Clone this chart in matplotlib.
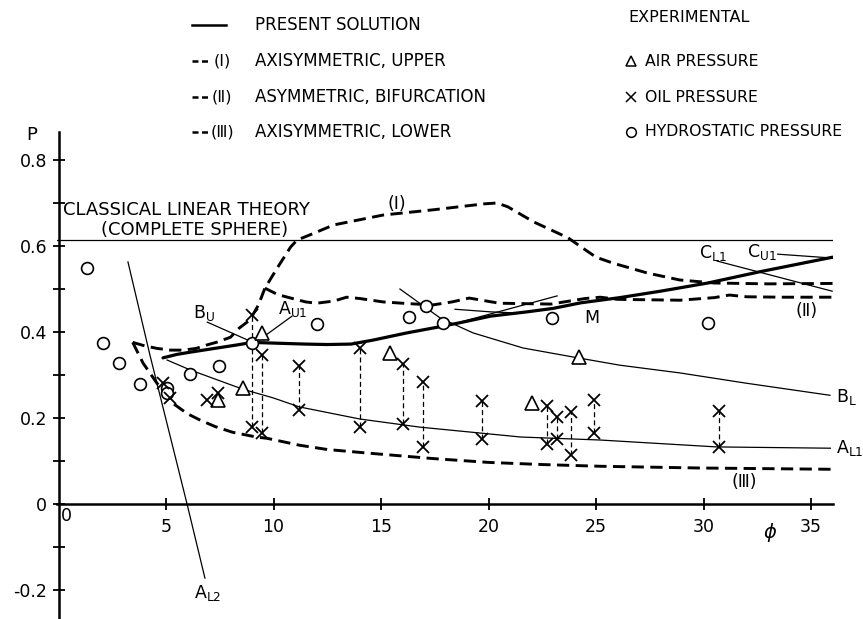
import matplotlib
matplotlib.use('Agg')
import matplotlib.pyplot as plt
from matplotlib.lines import Line2D

# ---------------- data ----------------
present_phi = [4.86, 5.5, 6.1, 7.0, 7.65, 8.3, 9.0, 10.2, 11.5, 12.5, 13.6, 14.6,
               16.2, 17.7, 18.8, 20.1, 21.8, 23.0, 24.3, 26.1, 28.0, 30.2, 32.6, 36.0]
present_p = [0.340, 0.348, 0.353, 0.360, 0.365, 0.370, 0.376, 0.374, 0.372, 0.371, 0.372, 0.381,
             0.398, 0.412, 0.423, 0.437, 0.447, 0.455, 0.468, 0.480, 0.495, 0.514, 0.540, 0.574]

upper_phi = [3.45, 4.0, 4.58, 5.2, 5.8, 6.4, 6.9, 7.4, 8.0, 8.4, 8.9, 9.3, 9.6, 10.2, 10.8,
             11.1, 11.7, 12.8, 15.1, 17.4, 19.8, 20.4, 20.9, 22.1, 23.7, 24.3, 25.0, 25.8,
             27.4, 28.9, 30.5, 33.0, 36.0]
upper_p = [0.376, 0.368, 0.362, 0.358, 0.358, 0.362, 0.370, 0.377, 0.388, 0.409, 0.428, 0.463,
           0.502, 0.551, 0.598, 0.614, 0.626, 0.649, 0.672, 0.684, 0.698, 0.700, 0.691, 0.656,
           0.619, 0.598, 0.574, 0.560, 0.537, 0.521, 0.514, 0.512, 0.513]

bif_phi = [9.6, 10.2, 10.8, 11.5, 12.0, 12.8, 13.4, 14.0, 15.1, 16.3, 17.4, 18.3, 19.1, 19.8,
           20.5, 22.9, 24.5, 25.2, 26.0, 28.9, 30.5, 31.2, 32.0, 33.6, 36.0]
bif_p = [0.502, 0.487, 0.479, 0.470, 0.467, 0.472, 0.481, 0.478, 0.470, 0.466, 0.463, 0.470,
         0.479, 0.473, 0.467, 0.465, 0.478, 0.481, 0.476, 0.474, 0.480, 0.486, 0.482, 0.481, 0.481]

lower_phi = [3.45, 3.93, 4.58, 5.3, 6.0, 6.6, 7.3, 8.1, 9.2, 9.7, 11.2, 12.5, 14.3, 17.4,
             20.0, 22.5, 25.2, 29.8, 36.0]
lower_p = [0.376, 0.328, 0.281, 0.235, 0.210, 0.195, 0.180, 0.167, 0.156, 0.153, 0.137, 0.127,
           0.119, 0.106, 0.097, 0.092, 0.088, 0.084, 0.081]

classical_p = 0.615

al2_phi = [3.23, 4.26, 5.98, 6.81]
al2_p = [0.563, 0.345, 0.0, -0.172]

al1_phi = [5.05, 6.12, 7.65, 8.58, 9.98, 11.2, 14.0, 16.8, 21.5, 25.2, 30.6, 35.9]
al1_p = [0.335, 0.312, 0.284, 0.267, 0.247, 0.226, 0.198, 0.179, 0.156, 0.149, 0.133, 0.130]

bl_phi = [15.88, 17.74, 19.28, 21.6, 23.93, 26.1, 28.9, 32.0, 35.88]
bl_p = [0.500, 0.433, 0.398, 0.363, 0.342, 0.323, 0.305, 0.281, 0.253]

m1_phi = [18.44, 20.07, 21.47]
m1_p = [0.453, 0.447, 0.444]
m2_phi = [18.67, 23.19]
m2_p = [0.423, 0.484]

cl1_phi = [30.63, 35.98]
cl1_p = [0.565, 0.495]

hydro_phi = [1.33, 2.07, 2.8, 3.8, 5.04, 5.04, 6.1, 7.47, 9.0, 12.0, 16.3, 17.1, 17.9, 22.96, 30.2]
hydro_p = [0.549, 0.374, 0.327, 0.279, 0.270, 0.258, 0.302, 0.321, 0.374, 0.419, 0.435, 0.460,
           0.421, 0.432, 0.421]

air_phi = [7.43, 8.6, 9.47, 15.4, 22.0, 24.2]
air_p = [0.242, 0.270, 0.398, 0.351, 0.235, 0.342]

oil_single_phi = [4.86, 5.2, 6.9, 7.43]
oil_single_p = [0.281, 0.246, 0.242, 0.258]

oil_pair_phi = [9.0, 9.45, 11.2, 14.0, 16.0, 16.95, 19.7, 22.7, 23.2, 23.85, 24.9, 30.7]
oil_upper_p = [0.440, 0.347, 0.321, 0.363, 0.326, 0.284, 0.240, 0.228, 0.202, 0.214, 0.242, 0.216]
oil_lower_p = [0.179, 0.165, 0.219, 0.179, 0.186, 0.133, 0.151, 0.140, 0.151, 0.114, 0.165, 0.133]

y_ticks = [-0.2, -0.1, 0.0, 0.1, 0.2, 0.3, 0.4, 0.5, 0.6, 0.7, 0.8]
y_ticklabels = ['-0.2', '', '0', '', '0.2', '', '0.4', '', '0.6', '', '0.8']
x_ticks = [5, 10, 15, 20, 25, 30, 35]
x_ticklabels = ['5', '10', '15', '20', '25', '30', '35']

# ---------------- figure ----------------
plt.rcParams['font.family'] = ['DejaVu Sans', 'Noto Sans CJK JP']
W, H = 863, 619
fig = plt.figure(figsize=(W / 100, H / 100), dpi=100)
ax = fig.add_axes([57 / W, 0, 776 / W, 487 / H])
ax.set_xlim(-0.07, 36.02)
ax.set_ylim(-0.267, 0.865)

for s in ('top', 'right'):
    ax.spines[s].set_visible(False)
ax.spines['left'].set_position(('data', 0))
ax.spines['bottom'].set_position(('data', 0))
ax.spines['left'].set_linewidth(1.8)
ax.spines['bottom'].set_linewidth(1.8)

ax.set_yticks(y_ticks)
ax.set_yticklabels(y_ticklabels)
ax.set_xticks(x_ticks)
ax.set_xticklabels(x_ticklabels)
ax.tick_params(axis='both', direction='inout', length=8.5, width=1.3, labelsize=12.5, pad=4)
ax.tick_params(axis='x', pad=6)

K = 'black'
ax.axhline(classical_p, color=K, lw=0.9)

dash_style = (0, (4.2, 2.2))
ax.plot(present_phi, present_p, color=K, lw=2.3, solid_capstyle='round', zorder=3)
ax.plot(upper_phi, upper_p, color=K, lw=2.1, linestyle=dash_style, zorder=3)
ax.plot(bif_phi, bif_p, color=K, lw=2.1, linestyle=dash_style, zorder=3)
ax.plot(lower_phi, lower_p, color=K, lw=2.1, linestyle=dash_style, zorder=3)

thin = dict(color=K, lw=0.9, zorder=2)
ax.plot(al2_phi, al2_p, clip_on=False, **thin)
ax.plot(al1_phi, al1_p, **thin)
ax.plot(bl_phi, bl_p, **thin)
ax.plot(m1_phi, m1_p, **thin)
ax.plot(m2_phi, m2_p, **thin)
ax.plot(cl1_phi, cl1_p, **thin)

# vertical dashed connectors between oil-pressure pairs
ax.vlines(oil_pair_phi, oil_lower_p, oil_upper_p, colors=K, linestyles=(0, (4, 2.5)), lw=0.9, zorder=2)

ax.plot(hydro_phi, hydro_p, 'o', ms=8.5, mfc='white', mec=K, mew=1.2, zorder=5)
ax.plot(air_phi, air_p, '^', ms=9.5, mfc='white', mec=K, mew=1.2, zorder=5)
ax.plot(oil_single_phi, oil_single_p, 'x', ms=8, mec=K, mew=1.3, zorder=5)
ax.plot(oil_pair_phi, oil_upper_p, 'x', ms=8, mec=K, mew=1.3, zorder=5)
ax.plot(oil_pair_phi, oil_lower_p, 'x', ms=8, mec=K, mew=1.3, zorder=5)

# pointer lines
ax.plot([6.92, 9.0], [0.423, 0.377], **thin)
ax.plot([10.86, 9.51], [0.437, 0.388], **thin)
ax.plot([33.45, 36.0], [0.581, 0.572], **thin)

# annotations
fs = 12.5
ax.text(0.21, 0.684, 'CLASSICAL LINEAR THEORY', fontsize=13, ha='left', va='center')
ax.text(6.35, 0.637, '(COMPLETE SPHERE)', fontsize=13, ha='center', va='center')
ax.text(15.75, 0.697, '(Ⅰ)', fontsize=fs, ha='center', va='center')
ax.text(34.8, 0.449, '(Ⅱ)', fontsize=fs, ha='center', va='center')
ax.text(31.9, 0.052, '(Ⅲ)', fontsize=fs, ha='center', va='center')
ax.text(6.77, 0.444, r'B$_{\mathregular{U}}$', fontsize=fs, ha='center', va='center')
ax.text(10.9, 0.453, r'A$_{\mathregular{U1}}$', fontsize=fs, ha='center', va='center')
ax.text(24.8, 0.433, 'M', fontsize=fs, ha='center', va='center')
ax.text(36.15, 0.249, r'B$_{\mathregular{L}}$', fontsize=fs, ha='left', va='center', clip_on=False)
ax.text(36.15, 0.130, r'A$_{\mathregular{L1}}$', fontsize=fs, ha='left', va='center', clip_on=False)
ax.text(6.96, -0.207, r'A$_{\mathregular{L2}}$', fontsize=fs, ha='center', va='center')
ax.text(30.44, 0.584, r'C$_{\mathregular{L1}}$', fontsize=fs, ha='center', va='center')
ax.text(32.7, 0.586, r'C$_{\mathregular{U1}}$', fontsize=fs, ha='center', va='center')
ax.text(33.1, -0.067, r'$\phi$', fontsize=14, ha='center', va='center')
ax.text(0.35, -0.028, '0', fontsize=fs, ha='center', va='center')

# ---------------- legend (figure pixel layout) ----------------
def fx(px):
    return px / W

def fy(py):
    return 1 - py / H

rows = [25, 61, 97, 132]
fig.add_artist(Line2D([fx(192), fx(226)], [fy(rows[0])] * 2, color=K, lw=1.8))
for r in rows[1:]:
    fig.add_artist(Line2D([fx(192), fx(211)], [fy(r)] * 2, color=K, lw=1.8,
                          linestyle=(0, (2.4, 1.4))))
for r, tag in zip(rows[1:], ['(Ⅰ)', '(Ⅱ)', '(Ⅲ)']):
    fig.text(fx(222), fy(r), tag, fontsize=11.5, ha='center', va='center')

legend_labels = ['PRESENT SOLUTION', 'AXISYMMETRIC, UPPER', 'ASYMMETRIC, BIFURCATION',
                 'AXISYMMETRIC, LOWER']
for r, t in zip(rows, legend_labels):
    fig.text(fx(255), fy(r), t, fontsize=12, ha='left', va='center')

fig.text(fx(689), fy(18), 'EXPERIMENTAL', fontsize=11.5, ha='center', va='center')
exp_labels = ['AIR PRESSURE', 'OIL PRESSURE', 'HYDROSTATIC PRESSURE']
exp_markers = ['^', 'x', 'o']
for r, t, m in zip(rows[1:], exp_labels, exp_markers):
    fig.add_artist(Line2D([fx(631)], [fy(r)], marker=m, ms=7, mfc='white', mec=K, mew=1.1,
                          linestyle='none'))
    fig.text(fx(645), fy(r), t, fontsize=11.3, ha='left', va='center')

fig.text(fx(32), fy(135), 'P', fontsize=13, ha='center', va='center')

fig.savefig('out.png', dpi=100)
